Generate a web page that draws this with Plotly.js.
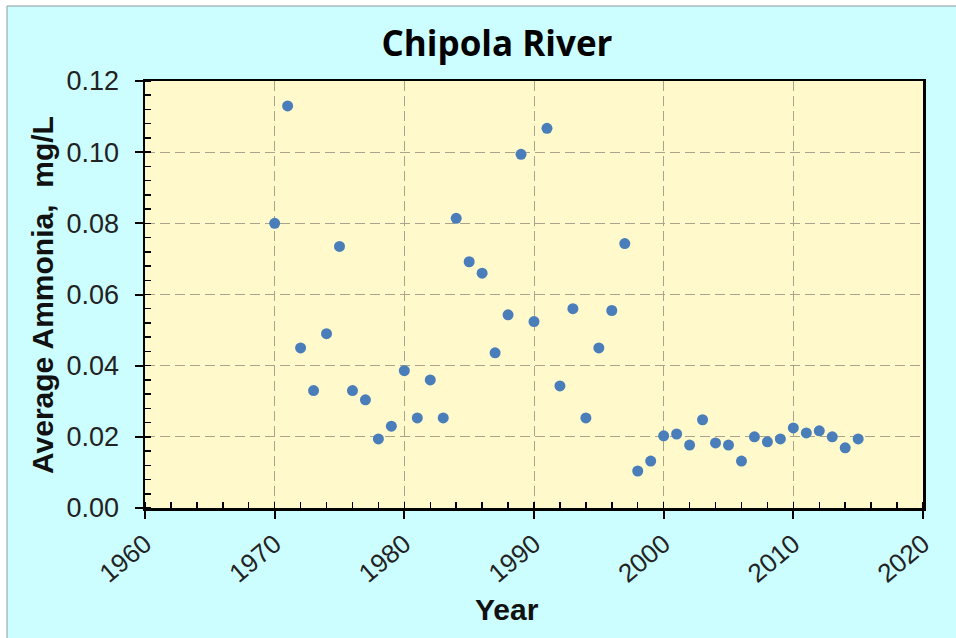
<!DOCTYPE html>
<html>
<head>
<meta charset="utf-8">
<script src="https://cdn.plot.ly/plotly-3.0.1.min.js"></script>
<style>html,body{margin:0;padding:0;background:#fff;}#chart{width:956px;height:638px;}</style>
</head>
<body>
<div id="chart"></div>
<script>
const years = [1970,1971,1972,1973,1974,1975,1976,1977,1978,1979,1980,1981,1982,1983,1984,1985,1986,1987,1988,1989,1990,1991,1992,1993,1994,1995,1996,1997,1998,1999,2000,2001,2002,2003,2004,2005,2006,2007,2008,2009,2010,2011,2012,2013,2014,2015];
const ammonia = [0.080,0.113,0.045,0.033,0.049,0.0735,0.033,0.0304,0.0194,0.023,0.0386,0.0253,0.036,0.0253,0.0814,0.0692,0.066,0.0436,0.0543,0.0994,0.0524,0.1067,0.0343,0.056,0.0253,0.045,0.0555,0.0743,0.0104,0.0132,0.0203,0.0208,0.0177,0.0248,0.0183,0.0177,0.0132,0.0200,0.0186,0.0194,0.0225,0.0211,0.0217,0.0200,0.0169,0.0194];
const xTickVals = [1960,1970,1980,1990,2000,2010,2020];
const yTickVals = [0,0.02,0.04,0.06,0.08,0.10,0.12];
const yTickText = ["0.00","0.02","0.04","0.06","0.08","0.10","0.12"];
const chartTitle = 'Chipola River';
const xTitle = 'Year';
const yTitle = 'Average Ammonia,  mg/L';

const trace = {
  x: years, y: ammonia, type: 'scatter', mode: 'markers',
  marker: {color: '#4a7ebb', size: 11, line: {width: 0}},
  hoverinfo: 'x+y'
};
const gridColor = '#aaa48e';
const L = 145, R = 923, T = 81, B = 508;
const px = v => (v - L) / (R - L);
const py = v => (B - v) / (B - T);
const layout = {
  width: 956, height: 638,
  margin: {l: L, r: 956 - R, t: T, b: 638 - B},
  paper_bgcolor: '#ffffff',
  plot_bgcolor: '#fff9cc',
  showlegend: false,
  title: {text: chartTitle, x: 497/956, xref: 'container', xanchor: 'center',
          y: 1 - 44/638, yref: 'container', yanchor: 'middle',
          font: {family: 'Open Sans, Arial, sans-serif', size: 35, color: '#000', weight: 'bold'}},
  xaxis: {
    range: [1960, 2020], tickvals: xTickVals, ticktext: xTickVals.map(String),
    tickangle: -40, tickfont: {family: 'Liberation Sans, Arial', size: 26, color: '#222'},
    ticks: 'outside', ticklen: 8, tickwidth: 2, tickcolor: '#000',
    showline: true, linecolor: '#000', linewidth: 2.5, mirror: true,
    showgrid: true, gridcolor: gridColor, griddash: '10px,5px', gridwidth: 1,
    zeroline: false,
    minor: {dtick: 2, tick0: 1960, ticks: 'inside', ticklen: 6, tickwidth: 1.5, tickcolor: '#000', showgrid: false}
  },
  yaxis: {
    range: [0, 0.12], tickvals: yTickVals, ticktext: yTickText,
    tickfont: {family: 'Liberation Sans, Arial', size: 27, color: '#222'},
    ticks: 'outside', ticklen: 8, tickwidth: 2, tickcolor: '#000', ticklabelstandoff: 10,
    showline: true, linecolor: '#000', linewidth: 2.5, mirror: true,
    showgrid: true, gridcolor: gridColor, griddash: '10px,5px', gridwidth: 1,
    zeroline: false,
    minor: {dtick: 0.004, tick0: 0, ticks: 'inside', ticklen: 6, tickwidth: 1.5, tickcolor: '#000', showgrid: false}
  },
  annotations: [
    {text: xTitle, xref: 'paper', yref: 'paper', x: px(507), y: py(609), xanchor: 'center', yanchor: 'middle',
     showarrow: false, font: {family: 'Liberation Sans, Arial', size: 30, color: '#111', weight: 'bold'}},
    {text: yTitle, xref: 'paper', yref: 'paper', x: px(42), y: py(295), xanchor: 'center', yanchor: 'middle',
     textangle: -90, showarrow: false, font: {family: 'Liberation Sans, Arial', size: 30, color: '#111', weight: 'bold'}}
  ],
  shapes: [{
    type: 'rect', xref: 'paper', yref: 'paper', layer: 'below',
    x0: px(7), x1: px(960), y0: py(642), y1: py(6),
    fillcolor: '#ccfdff', line: {color: '#8a9a9c', width: 1}
  }, {
    type: 'rect', xref: 'paper', yref: 'paper', layer: 'below',
    x0: 0, x1: 1, y0: 0, y1: 1,
    fillcolor: '#fff9cc', line: {width: 0}
  }]
};
Plotly.newPlot('chart', [trace], layout, {displayModeBar: false, staticPlot: true});
</script>
</body>
</html>
